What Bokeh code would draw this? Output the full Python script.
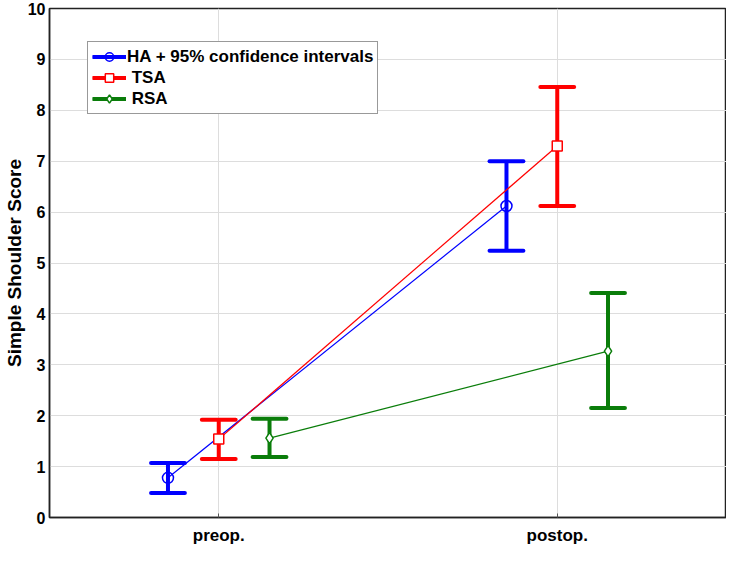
from bokeh.plotting import figure
from bokeh.models import ColumnDataSource, FixedTicker, Legend, LegendItem, Range1d
from bokeh.embed import file_html
from bokeh.resources import INLINE

# ---- data ----
categories = ["preop.", "postop."]
groups = ["HA + 95% confidence intervals", " TSA", " RSA"]
ha_mean = [0.78, 6.12]
ha_low = [0.48, 5.24]
ha_high = [1.07, 7.00]
tsa_mean = [1.54, 7.30]
tsa_low = [1.15, 6.12]
tsa_high = [1.92, 8.46]
rsa_mean = [1.56, 3.27]
rsa_low = [1.19, 2.15]
rsa_high = [1.94, 4.41]
y_ticks = [0, 1, 2, 3, 4, 5, 6, 7, 8, 9, 10]

series = [
    (groups[0], ha_mean, ha_low, ha_high, "#0000ff", "circle", -0.15, 11, 0.0),
    (groups[1], tsa_mean, tsa_low, tsa_high, "#ff0000", "square", 0.0, 10, 1.0),
    (groups[2], rsa_mean, rsa_low, rsa_high, "#0a7d0a", "diamond", 0.15, 11, 1.0),
]

FONT = "Liberation Sans"

p = figure(width=726, height=547, output_backend="svg", toolbar_location=None,
           x_range=Range1d(-0.5, 1.5), y_range=Range1d(0, 10),
           min_border_left=0, min_border_top=8, min_border_right=0, min_border_bottom=0)
p.background_fill_color = "white"
p.outline_line_color = "#222222"
p.outline_line_width = 1.5

p.xaxis.ticker = FixedTicker(ticks=list(range(len(categories))))
p.xaxis.major_label_overrides = {i: c for i, c in enumerate(categories)}
p.yaxis.ticker = FixedTicker(ticks=y_ticks)
p.xgrid.ticker = FixedTicker(ticks=list(range(len(categories))))
p.xgrid.grid_line_color = "#dddddd"
p.ygrid.grid_line_color = "#dddddd"

for ax in (p.xaxis, p.yaxis):
    ax.axis_line_color = "#222222"
    ax.axis_line_width = 1.5
    ax.major_label_text_font = FONT
    ax.major_label_text_font_style = "bold"
    ax.major_label_text_color = "black"
    ax.minor_tick_line_color = None
p.xaxis.major_tick_in = 4
p.xaxis.major_tick_out = 0
p.xaxis.major_tick_line_color = "#555555"
p.xaxis.major_label_text_font_size = "17px"
p.xaxis.major_label_standoff = 8
p.yaxis.major_tick_in = 0
p.yaxis.major_tick_out = 0
p.yaxis.major_label_text_font_size = "16px"
p.yaxis.major_label_standoff = 4
p.yaxis.axis_label = "Simple Shoulder Score"
p.yaxis.axis_label_text_font = FONT
p.yaxis.axis_label_text_font_style = "bold"
p.yaxis.axis_label_text_font_size = "19px"
p.yaxis.axis_label_text_color = "black"
p.yaxis.axis_label_standoff = 0

items = []
for name, mean, low, high, color, marker, off, msize, falpha in series:
    xs = [i + off for i in range(len(categories))]
    src = ColumnDataSource(dict(x=xs, m=mean, lo=low, hi=high,
                                xl=[x - 0.05 for x in xs], xr=[x + 0.05 for x in xs]))
    stem = p.segment(x0="x", y0="lo", x1="x", y1="hi", source=src, line_color=color, line_width=4)
    p.segment(x0="xl", y0="lo", x1="xr", y1="lo", source=src, line_color=color, line_width=4, line_cap="round")
    p.segment(x0="xl", y0="hi", x1="xr", y1="hi", source=src, line_color=color, line_width=4, line_cap="round")
    ln = p.line(x="x", y="m", source=src, line_color=color, line_width=1.2)
    sc = p.scatter(x="x", y="m", source=src, marker=marker, size=msize,
                   line_color=color, line_width=1.5, fill_color="white", fill_alpha=falpha)
    items.append(LegendItem(label=name, renderers=[stem, ln, sc]))

legend = Legend(items=items, location=(38, 403))
legend.label_text_font = FONT
legend.label_text_font_style = "bold"
legend.label_text_font_size = "17px"
legend.label_text_color = "black"
legend.glyph_width = 34
legend.glyph_height = 21
legend.label_height = 21
legend.spacing = 0
legend.padding = 4
legend.margin = 0
legend.label_standoff = 1
legend.border_line_color = "#333333"
legend.border_line_width = 1.5
legend.background_fill_color = "white"
legend.background_fill_alpha = 1.0
p.add_layout(legend, "center")

open("out.html", "w").write(file_html(p, INLINE))
